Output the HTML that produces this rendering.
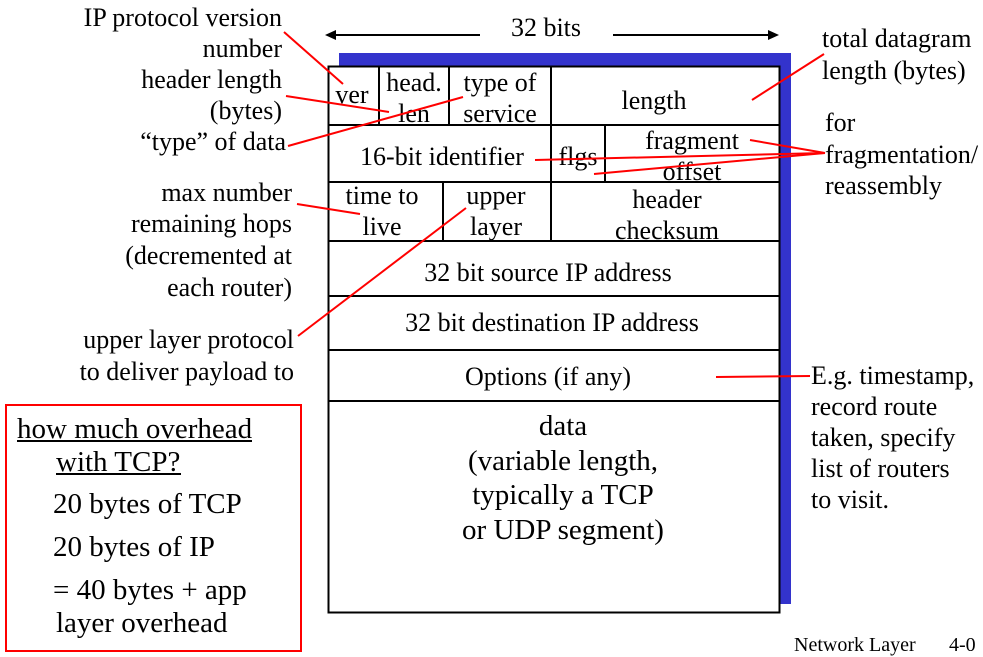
<!DOCTYPE html>
<html><head><meta charset="utf-8"><style>
html,body{margin:0;padding:0;background:#fff;}
svg{display:block;}
text{font-family:"Liberation Serif",serif;font-size:26px;fill:#000;}
.b{font-size:29px;}
</style></head><body>
<svg width="983" height="657" viewBox="0 0 983 657" xmlns="http://www.w3.org/2000/svg">
<rect x="339" y="53" width="452" height="551" fill="#3333cc"/>
<rect x="328.5" y="66.5" width="451" height="546" fill="#fff" stroke="#000" stroke-width="2"/>
<g stroke="#000" stroke-width="2">
<line x1="328" y1="125" x2="780" y2="125"/>
<line x1="328" y1="182" x2="780" y2="182"/>
<line x1="328" y1="241" x2="780" y2="241"/>
<line x1="328" y1="296" x2="780" y2="296"/>
<line x1="328" y1="350" x2="780" y2="350"/>
<line x1="328" y1="401" x2="780" y2="401"/>
<line x1="379" y1="66" x2="379" y2="125"/>
<line x1="449" y1="66" x2="449" y2="125"/>
<line x1="551" y1="66" x2="551" y2="241"/>
<line x1="605" y1="125" x2="605" y2="182"/>
<line x1="443" y1="182" x2="443" y2="241"/>
</g>
<g stroke="#000" stroke-width="2">
<line x1="332" y1="35" x2="480" y2="35"/>
<line x1="613" y1="35" x2="772" y2="35"/>
</g>
<polygon points="325,35 336,30 336,40" fill="#000"/>
<polygon points="779,35 768,30 768,40" fill="#000"/>
<text x="546" y="36" text-anchor="middle">32 bits</text>
<g text-anchor="middle">
<text x="352" y="103">ver</text>
<text x="414" y="91">head.</text>
<text x="414" y="122">len</text>
<text x="500" y="91">type of</text>
<text x="500" y="122">service</text>
<text x="654" y="109">length</text>
<text x="442" y="165">16-bit identifier</text>
<text x="578" y="165">flgs</text>
<text x="692" y="149">fragment</text>
<text x="692" y="180">offset</text>
<text x="382" y="204">time to</text>
<text x="382" y="235">live</text>
<text x="496" y="204">upper</text>
<text x="496" y="235">layer</text>
<text x="667" y="208">header</text>
<text x="667" y="239">checksum</text>
<text x="548" y="281">32 bit source IP address</text>
<text x="552" y="331">32 bit destination IP address</text>
<text x="548" y="385">Options (if any)</text>
<text class="b" x="563" y="435">data</text>
<text class="b" x="563" y="470">(variable length,</text>
<text class="b" x="563" y="504">typically a TCP</text>
<text class="b" x="563" y="539">or UDP segment)</text>
</g>
<g text-anchor="end">
<text x="282" y="26">IP protocol version</text>
<text x="282" y="57">number</text>
<text x="282" y="88">header length</text>
<text x="282" y="119">(bytes)</text>
<text x="286" y="150">“type” of data</text>
<text x="292" y="201">max number</text>
<text x="292" y="232">remaining hops</text>
<text x="292" y="264">(decremented at</text>
<text x="292" y="296">each router)</text>
<text x="294" y="348">upper layer protocol</text>
<text x="294" y="380">to deliver payload to</text>
</g>
<text x="822" y="47">total datagram</text>
<text x="822" y="79">length (bytes)</text>
<text x="825" y="131">for</text>
<text x="825" y="163">fragmentation/</text>
<text x="825" y="194">reassembly</text>
<text x="811" y="384">E.g. timestamp,</text>
<text x="811" y="415">record route</text>
<text x="811" y="446">taken, specify</text>
<text x="811" y="477">list of routers</text>
<text x="811" y="508">to visit.</text>
<g stroke="#ff0000" stroke-width="2" fill="none">
<line x1="284" y1="32" x2="343" y2="84"/>
<line x1="286" y1="96" x2="389" y2="112"/>
<line x1="288" y1="146" x2="463" y2="97"/>
<line x1="297" y1="204" x2="360" y2="214"/>
<line x1="298" y1="336" x2="466" y2="208"/>
<line x1="752" y1="100" x2="824" y2="54"/>
<line x1="535" y1="160" x2="825" y2="153"/>
<line x1="594" y1="174" x2="825" y2="153"/>
<line x1="750" y1="140" x2="825" y2="153"/>
<line x1="716" y1="377" x2="810" y2="376"/>
</g>
<rect x="6" y="405" width="295" height="246" fill="none" stroke="#ff0000" stroke-width="2"/>
<text class="b" x="17" y="438">how much overhead</text>
<line x1="17" y1="441" x2="252" y2="441" stroke="#000" stroke-width="2"/>
<text class="b" x="56" y="471">with TCP?</text>
<line x1="56" y1="474" x2="181" y2="474" stroke="#000" stroke-width="2"/>
<text class="b" x="53" y="513">20 bytes of TCP</text>
<text class="b" x="53" y="556">20 bytes of IP</text>
<text class="b" x="53" y="599">= 40 bytes + app</text>
<text class="b" x="56" y="632">layer overhead</text>
<text x="794" y="651" style="font-size:20px">Network Layer</text>
<text x="949" y="651" style="font-size:20px">4-0</text>
</svg>
</body></html>
